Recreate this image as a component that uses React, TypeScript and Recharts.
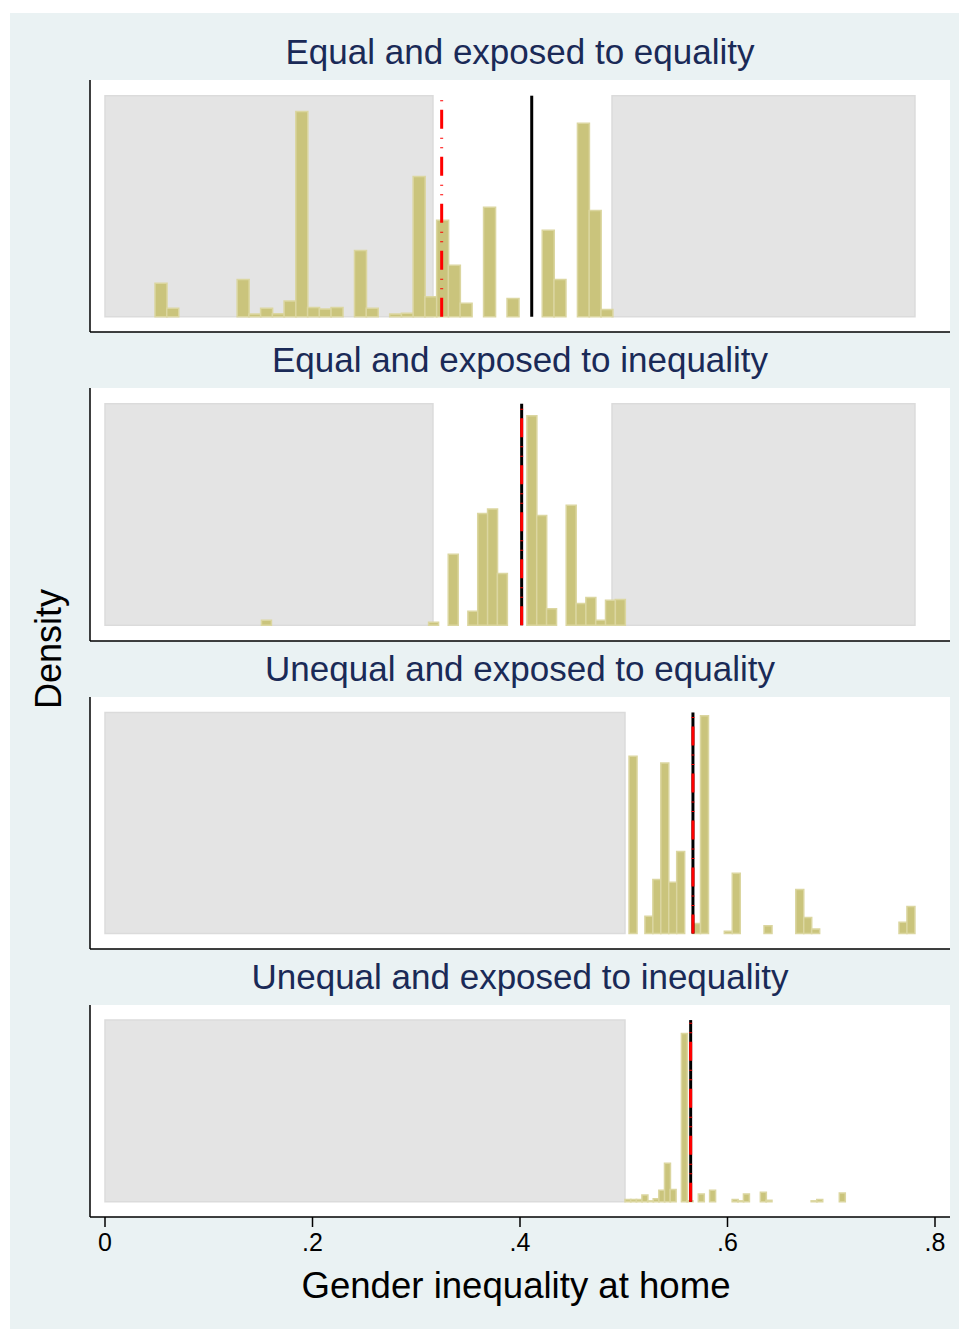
import React from 'react';
import { ComposedChart, Bar, XAxis, YAxis, ReferenceArea, ReferenceLine } from 'recharts';

const titles = [
  'Equal and exposed to equality',
  'Equal and exposed to inequality',
  'Unequal and exposed to equality',
  'Unequal and exposed to inequality',
];

// histogram bins for each panel: left edge of first bin and bin width
const binStart = [0.0482, 0.1508, 0.5051, 0.5012];
const binWidth = [0.01131, 0.009475, 0.007653, 0.005436];

// bar heights, scaled so the top of the shaded band is 1
const heights1 = [
  0.151, 0.038, 0, 0, 0, 0, 0, 0.169, 0.012, 0.038, 0.014, 0.071, 0.929, 0.042, 0.035, 0.042,
  0, 0.3, 0.038, 0, 0.012, 0.016, 0.635, 0.09, 0.436, 0.233, 0.061, 0, 0.495, 0, 0.083, 0,
  0, 0.391, 0.169, 0, 0.875, 0.481, 0.033,
];
const heights2 = [
  0.023, 0, 0, 0, 0, 0, 0, 0, 0, 0, 0, 0, 0, 0, 0, 0, 0, 0.014, 0, 0.321, 0, 0.063, 0.505,
  0.525, 0.234, 0, 0, 0.946, 0.496, 0.075, 0, 0.542, 0.098, 0.125, 0.023, 0.113, 0.116,
];
const heights3 = [
  0.802, 0, 0.078, 0.244, 0.771, 0.232, 0.371, 0, 0.045, 0.985, 0, 0, 0.01, 0.273, 0, 0, 0,
  0.035, 0, 0, 0, 0.199, 0.072, 0.02, 0, 0, 0, 0, 0, 0, 0, 0, 0, 0, 0.051, 0.122,
];
const heights4 = [
  0.012, 0.012, 0.012, 0.037, 0.005, 0.017, 0.063, 0.212, 0.068, 0, 0.926, 0.005, 0, 0.043, 0,
  0.063, 0, 0, 0, 0.013, 0.005, 0.043, 0, 0, 0.052, 0.008, 0, 0, 0, 0, 0, 0, 0, 0.005, 0.012,
  0, 0, 0, 0.048,
];
const allHeights = [heights1, heights2, heights3, heights4];

// vertical reference lines: solid black and red dashed
const blackLine = [0.4113, 0.4016, 0.5667, 0.5645];
const redLine = [0.3245, 0.4016, 0.5667, 0.5645];

// shaded bands (x ranges)
const shadesEqual = [[0, 0.3161], [0.4887, 0.7807]];
const shadesUnequal = [[0, 0.5012]];
const allShades = [shadesEqual, shadesEqual, shadesUnequal, shadesUnequal];

const xTicks = [0, 0.2, 0.4, 0.6, 0.8];

// layout
const panelTop = [80, 388, 697, 1005];
const panelHeight = [252, 253, 252, 212];
const yDomains: [number, number][] = [[-0.069, 1.071], [-0.071, 1.071], [-0.07, 1.07], [-0.084, 1.083]];
const X_DOMAIN: [number, number] = [-0.01446, 0.81446];
const FONT = '"Liberation Sans", Arial, Helvetica, sans-serif';
const TITLE_COLOR = '#1a2a57';

const fmtTick = (v: number) => (v === 0 ? '0' : String(v).replace(/^0/, ''));

function Panel({ idx }: { idx: number }) {
  const last = idx === 3;
  const axisH = last ? 45 : 2;
  const data = allHeights[idx].map((h, i) => ({ x: binStart[idx] + (i + 0.5) * binWidth[idx], h }));
  return (
    <div style={{ position: 'absolute', left: 89, top: panelTop[idx] }}>
      <div style={{ position: 'absolute', left: 1, top: 0, width: 860, height: panelHeight[idx], background: '#fff' }} />
      <ComposedChart
        width={861}
        height={panelHeight[idx] + axisH}
        data={data}
        margin={{ top: 0, right: 0, bottom: 0, left: 0 }}
        barCategoryGap={0}
        barGap={0}
      >
        <XAxis
          type="number"
          dataKey="x"
          domain={X_DOMAIN}
          allowDataOverflow
          ticks={last ? xTicks : []}
          tick={last ? { fontSize: 25, fill: '#000', fontFamily: FONT } : false}
          tickLine={last ? { stroke: '#000', strokeWidth: 1.5 } : false}
          tickSize={10}
          tickMargin={6}
          tickFormatter={fmtTick}
          axisLine={{ stroke: '#000', strokeWidth: 1.5 }}
          height={axisH}
          interval={0}
        />
        <YAxis
          type="number"
          domain={yDomains[idx]}
          allowDataOverflow
          tick={false}
          tickLine={false}
          axisLine={{ stroke: '#000', strokeWidth: 1.5 }}
          width={1}
        />
        {allShades[idx].map(([a, b], i) => (
          <ReferenceArea
            key={i}
            x1={a}
            x2={b}
            y1={0}
            y2={1}
            fill="#e4e4e4"
            fillOpacity={1}
            stroke="#dbdbdb"
            strokeWidth={1.5}
          />
        ))}
        <Bar dataKey="h" fill="#cac47c" stroke="#dbd6a0" strokeWidth={1.5} isAnimationActive={false} />
        <ReferenceLine
          segment={[{ x: blackLine[idx], y: 0 }, { x: blackLine[idx], y: 1 }]}
          stroke="#000"
          strokeWidth={3}
        />
        <ReferenceLine
          segment={[{ x: redLine[idx], y: 0 }, { x: redLine[idx], y: 1 }]}
          stroke="#ff0000"
          strokeWidth={3}
          strokeDasharray="19 8.5 1 8.5 1 9"
        />
      </ComposedChart>
    </div>
  );
}

export default function App() {
  return (
    <div style={{ position: 'absolute', left: 0, top: 0, width: 959, height: 1329, background: '#fff', fontFamily: FONT }}>
      <div style={{ position: 'absolute', left: 10, top: 13, width: 949, height: 1316, background: '#eaf2f3' }} />
      {titles.map((t, i) => (
        <div
          key={t}
          style={{
            position: 'absolute',
            left: 90,
            width: 860,
            top: panelTop[i] - 46,
            height: 35,
            lineHeight: '35px',
            fontSize: 35,
            textAlign: 'center',
            color: TITLE_COLOR,
            whiteSpace: 'nowrap',
          }}
        >
          {t}
        </div>
      ))}
      {titles.map((_, i) => (
        <Panel key={i} idx={i} />
      ))}
      <div
        style={{
          position: 'absolute',
          left: 49 - 100,
          top: 649 - 20,
          width: 200,
          height: 40,
          lineHeight: '40px',
          fontSize: 36,
          textAlign: 'center',
          color: '#000',
          transform: 'rotate(-90deg)',
          whiteSpace: 'nowrap',
        }}
      >
        Density
      </div>
      <div
        style={{
          position: 'absolute',
          left: 86,
          width: 860,
          top: 1267,
          height: 38,
          lineHeight: '38px',
          fontSize: 36.6,
          textAlign: 'center',
          color: '#000',
          whiteSpace: 'nowrap',
        }}
      >
        Gender inequality at home
      </div>
    </div>
  );
}
